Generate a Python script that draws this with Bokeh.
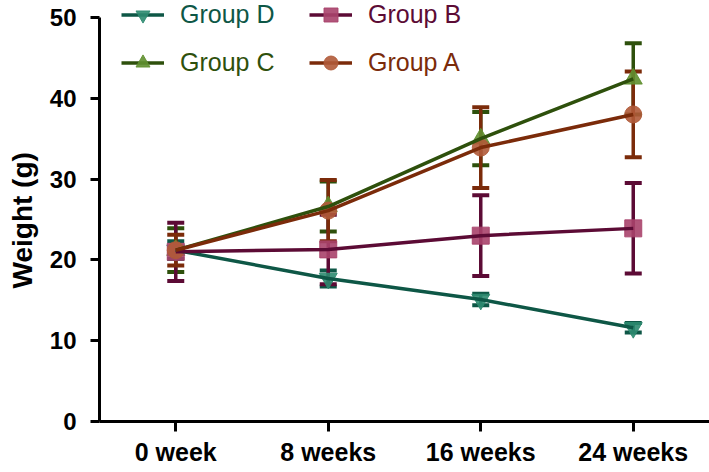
from bokeh.plotting import figure
from bokeh.models import (ColumnDataSource, Whisker, TeeHead, Legend, LegendItem,
                          FactorRange, Range1d, FixedTicker, Title)
from bokeh.embed import file_html
from bokeh.resources import INLINE

weeks = ["0 week", "8 weeks", "16 weeks", "24 weeks"]
y_ticks = [0, 10, 20, 30, 40, 50]
y_title = "Weight (g)"

group_labels = ["Group D", "Group C", "Group B", "Group A"]
group_d_mean = [21.2, 17.7, 15.1, 11.6]
group_d_err = [1.1, 1.0, 0.7, 0.6]
group_c_mean = [21.2, 26.6, 35.0, 42.4]
group_c_err = [2.7, 3.1, 3.3, 4.4]
group_b_mean = [21.0, 21.3, 23.0, 23.9]
group_b_err = [3.6, 4.3, 5.0, 5.6]
group_a_mean = [21.2, 26.1, 33.9, 38.0]
group_a_err = [1.9, 3.8, 5.0, 5.3]

means = [group_d_mean, group_c_mean, group_b_mean, group_a_mean]
errs = [group_d_err, group_c_err, group_b_err, group_a_err]
markers = ["inverted_triangle", "triangle", "square", "circle"]
line_colors = ["#0e5746", "#2e500c", "#5c0b35", "#7b2b0a"]
marker_colors = ["#2e8b70", "#5f8f2f", "#a9436b", "#b05a38"]
marker_sizes = [18, 18, 17, 17]
# legend positions (screen px from frame bottom-left)
legend_pos = [(22, 389), (22, 341), (210, 389), (210, 341)]

p = figure(width=709, height=472, x_range=FactorRange(factors=weeks),
           y_range=Range1d(0, 52.1), output_backend="svg", toolbar_location=None,
           min_border_left=98, min_border_right=0, min_border_top=0,
           min_border_bottom=51)
p.outline_line_color = None
p.xgrid.visible = False
p.ygrid.visible = False

sources = []
for i in range(4):
    m = means[i]
    e = errs[i]
    src = ColumnDataSource(dict(
        x=weeks, mean=m,
        upper=[a + b for a, b in zip(m, e)],
        lower=[a - b for a, b in zip(m, e)]))
    sources.append(src)

scatter_rs = []
for i in range(4):
    r = p.scatter(x="x", y="mean", source=sources[i], marker=markers[i],
                  size=marker_sizes[i], fill_color=marker_colors[i],
                  line_color=marker_colors[i], fill_alpha=0.9, line_alpha=0.9)
    scatter_rs.append(r)

line_rs = []
for i in range(4):
    lr = p.line(x="x", y="mean", source=sources[i], line_color=line_colors[i],
                line_width=3.5)
    line_rs.append(lr)
    w = Whisker(base="x", upper="upper", lower="lower", source=sources[i],
                line_color=line_colors[i], line_width=3.5,
                upper_head=TeeHead(size=17, line_color=line_colors[i], line_width=4),
                lower_head=TeeHead(size=17, line_color=line_colors[i], line_width=4))
    p.add_layout(w)

for i in range(4):
    leg = Legend(items=[LegendItem(label=group_labels[i],
                                   renderers=[line_rs[i], scatter_rs[i]])],
                 location=legend_pos[i], padding=0, margin=0,
                 border_line_alpha=0, background_fill_alpha=0,
                 glyph_width=43, glyph_height=35, label_standoff=16,
                 label_text_font="Liberation Sans", label_text_font_size="25px",
                 label_text_color=line_colors[i])
    p.add_layout(leg, "center")

for ax in (p.xaxis[0], p.yaxis[0]):
    ax.axis_line_width = 3
    ax.axis_line_color = "black"
    ax.major_tick_line_width = 3
    ax.major_tick_line_color = "black"
    ax.major_tick_in = 0
    ax.minor_tick_line_color = None
    ax.major_label_text_font = "Liberation Sans"
    ax.major_label_text_font_style = "bold"
    ax.major_label_text_color = "black"

p.xaxis.major_tick_out = 10
p.xaxis.major_label_standoff = 6
p.xaxis.major_label_text_font_size = "25px"

p.yaxis.ticker = FixedTicker(ticks=y_ticks)
p.yaxis.bounds = (0, 50)
p.yaxis.major_tick_out = 9
p.yaxis.major_label_standoff = 14
p.yaxis.major_label_text_font_size = "24px"

ytitle = Title(text=y_title, align="left", offset=133, standoff=13,
               vertical_align="top",
               text_font="Liberation Sans", text_font_style="bold",
               text_font_size="28px", text_color="black")
p.add_layout(ytitle, "left")

open("out.html", "w").write(file_html(p, INLINE))
